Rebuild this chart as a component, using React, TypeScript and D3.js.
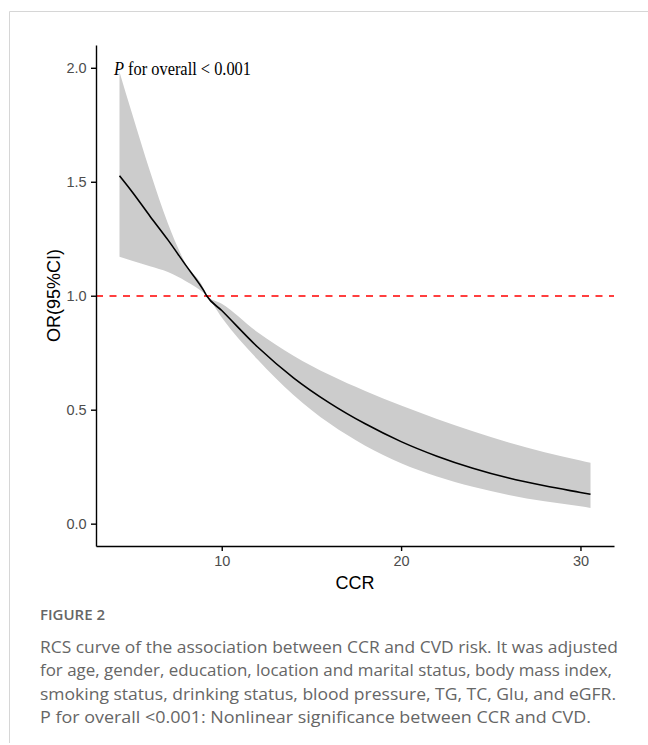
import React, { useEffect, useRef } from 'react';
import * as d3 from 'd3';

const ccr = [4.3, 5, 6, 7, 8, 9, 9.16, 10, 12, 14, 16, 18, 20, 22, 24, 26, 28, 30, 30.56];
const orFit = [1.526, 1.456, 1.349, 1.245, 1.133, 1.022, 1.0, 0.935, 0.775, 0.64, 0.53, 0.438, 0.36, 0.296, 0.243, 0.2, 0.166, 0.137, 0.129];
const ciUpper = [1.982, 1.799, 1.546, 1.317, 1.139, 1.03, 1.0, 0.965, 0.84, 0.737, 0.653, 0.582, 0.518, 0.459, 0.405, 0.356, 0.313, 0.277, 0.267];
const ciLower = [1.171, 1.154, 1.129, 1.104, 1.064, 1.012, 1.0, 0.905, 0.72, 0.565, 0.44, 0.342, 0.265, 0.207, 0.162, 0.126, 0.098, 0.076, 0.069];

const yTicks = [0, 0.5, 1.0, 1.5, 2.0];
const xTicks = [10, 20, 30];
const refLine = 1;

const pLabel = 'for overall < 0.001';
const captionTitle = 'FIGURE 2';
const captionLines = [
  'RCS curve of the association between CCR and CVD risk. It was adjusted',
  'for age, gender, education, location and marital status, body mass index,',
  'smoking status, drinking status, blood pressure, TG, TC, Glu, and eGFR.',
  'P for overall <0.001: Nonlinear significance between CCR and CVD.',
];
const captionWidths = [578, 572, 576, 551];

export default function App() {
  const xAxisRef = useRef<SVGGElement>(null);
  const yAxisRef = useRef<SVGGElement>(null);

  const left = 96, right = 614, top = 45, bottom = 546;
  const x = d3.scaleLinear().domain([2.99, 31.87]).range([left, right]);
  const y = d3.scaleLinear().domain([-0.098, 2.1]).range([bottom, top]);

  const pts = ccr.map((c, i) => ({ c, or: orFit[i], lo: ciLower[i], hi: ciUpper[i] }));

  const band = d3.area<any>()
    .x(d => x(d.c))
    .y0(d => y(d.lo))
    .y1(d => y(d.hi))
    .curve(d3.curveMonotoneX);

  const fitLine = d3.line<any>()
    .x(d => x(d.c))
    .y(d => y(d.or))
    .curve(d3.curveMonotoneX);

  useEffect(() => {
    const styleAxis = (g: any) => {
      g.attr('font-size', 14.5).attr('font-family', '"Liberation Sans", Arial, sans-serif');
      g.select('.domain').attr('stroke', '#000').attr('stroke-width', 1.4);
      g.selectAll('.tick line').attr('stroke', '#000').attr('stroke-width', 1.4);
      g.selectAll('.tick text').attr('fill', '#4d4d4d');
    };
    d3.select(xAxisRef.current)
      .call(d3.axisBottom(x).tickValues(xTicks).tickSize(5).tickSizeOuter(0).tickPadding(4.3))
      .call(styleAxis);
    d3.select(yAxisRef.current)
      .call(d3.axisLeft(y).tickValues(yTicks).tickFormat(d3.format('.1f')).tickSize(5).tickSizeOuter(0).tickPadding(4.3))
      .call(styleAxis);
  }, []);

  const yRef = Math.round(y(refLine));

  return (
    <svg width={648} height={745} style={{ position: 'absolute', left: 0, top: 0, background: '#fff' }}>
      <path d="M9.5,743 V11.5 H648" fill="none" stroke="#d6d6d6" strokeWidth={1} />

      <path d={band(pts) || ''} fill="#cccccc" stroke="none" />
      <line x1={left} x2={right} y1={yRef} y2={yRef} stroke="#ff0000" strokeWidth={1.7} strokeDasharray="7,6.5" />
      <path d={fitLine(pts) || ''} fill="none" stroke="#000" strokeWidth={1.6} />

      <g ref={xAxisRef} transform={`translate(0,${bottom})`} />
      <g ref={yAxisRef} transform={`translate(${left},0)`} />

      <text x={114} y={75} fontFamily='"Liberation Serif", "Times New Roman", serif' fontSize={19.5} fill="#000" textLength={137} lengthAdjust="spacingAndGlyphs">
        <tspan fontStyle="italic">P</tspan> {pLabel}
      </text>

      <text x={(left + right) / 2} y={589} textAnchor="middle" fontFamily='"Liberation Sans", Arial, sans-serif' fontSize={18} fill="#000">CCR</text>
      <text transform={`translate(60,${(top + bottom) / 2}) rotate(-90)`} textAnchor="middle" fontFamily='"Liberation Sans", Arial, sans-serif' fontSize={18} fill="#000">OR(95%CI)</text>

      <text x={40} y={620} fontFamily='"Open Sans", Lato, sans-serif' fontWeight={600} fontSize={15} fill="#666">{captionTitle}</text>
      {captionLines.map((ln, i) => (
        <text key={i} x={40} y={652.7 + i * 23.5} fontFamily='"Open Sans", Lato, sans-serif' fontSize={17.2} fill="#666"
          textLength={captionWidths[i]} lengthAdjust="spacingAndGlyphs">{ln}</text>
      ))}
    </svg>
  );
}
